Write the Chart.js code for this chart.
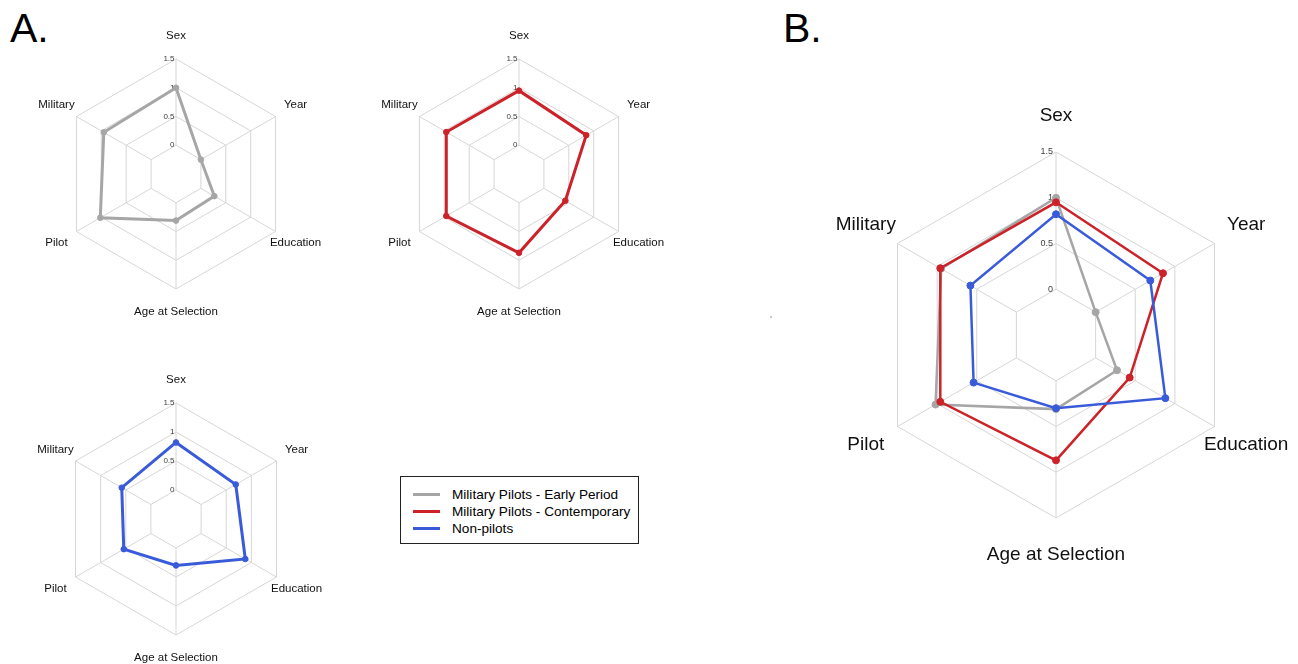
<!DOCTYPE html>
<html>
<head>
<meta charset="utf-8">
<script src="https://cdn.jsdelivr.net/npm/chart.js@4/dist/chart.umd.min.js"></script>
<style>
  html, body { margin:0; padding:0; width:1298px; height:664px; overflow:hidden; background:#fff; }
  body { position:relative; font-family:"Liberation Sans", Arial, sans-serif; }
  .panel { position:absolute; font-size:41px; line-height:41px; color:#000; }
  .box { position:absolute; }
  #legend { position:absolute; left:400px; top:476px; width:237px; height:66px; border:1px solid #222; box-sizing:content-box; }
  .row { position:absolute; left:0; height:17px; font-size:13.6px; line-height:17px; color:#000; white-space:nowrap; }
  .swatch { position:absolute; left:12px; top:7px; width:27px; height:3px; }
  .txt { position:absolute; left:51px; top:0; }
  #dot { position:absolute; left:770px; top:316px; width:2px; height:2px; background:#c8c8c8; }
</style>
</head>
<body>
<div class="panel" style="left:10px; top:8px;">A.</div>
<div class="panel" style="left:783px; top:8px;">B.</div>
<div id="dot"></div>
<div id="legend"></div>

<script>
// ---------- data ----------
const CATEGORIES = ['Sex', 'Year', 'Education', 'Age at Selection', 'Pilot', 'Military'];
const TICK_VALUES = [0, 0.5, 1, 1.5];
const TICK_LABELS = ['0', '0.5', '1', '1.5'];
const SERIES_NAMES = ['Military Pilots - Early Period', 'Military Pilots - Contemporary', 'Non-pilots'];
const EARLY_PERIOD = [1.00, 0.00, 0.27, 0.31, 1.02, 0.95];
const CONTEMPORARY = [0.95, 0.85, 0.43, 0.87, 0.96, 0.96];
const NON_PILOTS   = [0.82, 0.69, 0.88, 0.30, 0.54, 0.58];

// ---------- styling ----------
const COLORS = ['#a6a6a6', '#cc2229', '#3a5bd9'];
const SERIES_VALUES = [EARLY_PERIOD, CONTEMPORARY, NON_PILOTS];
const GRID = '#d6d6d6';
const FONT = '"Liberation Sans", Arial, sans-serif';

const labelPlugin = {
  id: 'radarLabels',
  beforeDatasetsDraw(chart) {
    const s = chart.scales.r;
    const ctx = chart.ctx;
    const o = chart.options.plugins.radarLabels;
    const r0 = s.getDistanceFromCenterForValue(0);
    const r1 = s.getDistanceFromCenterForValue(s.max);
    ctx.save();
    ctx.strokeStyle = GRID;
    ctx.lineWidth = 1;
    for (let i = 0; i < chart.data.labels.length; i++) {
      const a = s.getPointPosition(i, r0), b = s.getPointPosition(i, r1);
      ctx.beginPath(); ctx.moveTo(a.x, a.y); ctx.lineTo(b.x, b.y); ctx.stroke();
    }
    // tick labels
    ctx.fillStyle = '#404040';
    ctx.font = o.tickSize + 'px ' + FONT;
    ctx.textAlign = 'right';
    ctx.textBaseline = 'middle';
    TICK_VALUES.forEach((v, k) => {
      const p = s.getPointPosition(0, s.getDistanceFromCenterForValue(v));
      ctx.fillText(TICK_LABELS[k], p.x - o.tickOffset, p.y);
    });
    ctx.restore();
  },
  afterDraw(chart) {
    const s = chart.scales.r;
    const ctx = chart.ctx;
    const o = chart.options.plugins.radarLabels;
    ctx.save();
    ctx.fillStyle = '#111';
    ctx.font = o.labelSize + 'px ' + FONT;
    ctx.textAlign = 'center';
    ctx.textBaseline = 'middle';
    chart.data.labels.forEach((l, i) => {
      const p = s.getPointPosition(i, s.drawingArea * 1.2);
      ctx.fillText(l, p.x, p.y);
    });
    ctx.restore();
  }
};

function makeRadar(cfg) {
  const W = 2 * cfg.r + cfg.padL + cfg.padR;
  const H = 2 * cfg.r + cfg.padT + cfg.padB;
  const div = document.createElement('div');
  div.className = 'box';
  div.style.left = (cfg.cx - cfg.r - cfg.padL) + 'px';
  div.style.top = (cfg.cy - cfg.r - cfg.padT) + 'px';
  div.style.width = W + 'px';
  div.style.height = H + 'px';
  const cv = document.createElement('canvas');
  cv.width = W; cv.height = H;
  cv.style.width = W + 'px'; cv.style.height = H + 'px';
  div.appendChild(cv);
  document.body.appendChild(div);

  const datasets = cfg.series.map((si, k) => ({
    label: SERIES_NAMES[si],
    data: SERIES_VALUES[si],
    borderColor: COLORS[si],
    backgroundColor: COLORS[si],
    pointBackgroundColor: COLORS[si],
    pointBorderColor: COLORS[si],
    borderWidth: cfg.lineWidth,
    pointRadius: cfg.pointRadius,
    pointBorderWidth: 1,
    fill: false,
    tension: 0,
    order: cfg.series.length - 1 - k
  }));

  new Chart(cv, {
    type: 'radar',
    data: { labels: CATEGORIES, datasets },
    options: {
      responsive: false,
      animation: false,
      devicePixelRatio: 1,
      layout: { padding: { left: cfg.padL, right: cfg.padR, top: cfg.padT, bottom: cfg.padB } },
      plugins: {
        legend: { display: false },
        tooltip: { enabled: false },
        radarLabels: { labelSize: cfg.labelSize, tickSize: cfg.tickSize, tickOffset: cfg.tickOffset }
      },
      scales: {
        r: {
          min: -0.5, max: 1.5,
          ticks: { display: false, stepSize: 0.5 },
          pointLabels: { display: false },
          grid: { color: GRID, lineWidth: 1 },
          angleLines: { display: false }
        }
      }
    },
    plugins: [labelPlugin]
  });
}

// Panel A small charts
makeRadar({ cx: 176, cy: 174, r: 115, padL: 40, padR: 40, padT: 40, padB: 40, series: [0],
  lineWidth: 3, pointRadius: 2.8, labelSize: 11.5, tickSize: 8, tickOffset: 1.5 });
makeRadar({ cx: 519, cy: 174, r: 115, padL: 40, padR: 40, padT: 40, padB: 40, series: [1],
  lineWidth: 3, pointRadius: 2.8, labelSize: 11.5, tickSize: 8, tickOffset: 1.5 });
makeRadar({ cx: 176, cy: 519, r: 116, padL: 40, padR: 40, padT: 40, padB: 30, series: [2],
  lineWidth: 3, pointRadius: 2.8, labelSize: 11.5, tickSize: 8, tickOffset: 1.5 });
// Panel B combined chart
makeRadar({ cx: 1056, cy: 335, r: 183, padL: 75, padR: 55, padT: 50, padB: 50, series: [0, 1, 2],
  lineWidth: 2.5, pointRadius: 3.5, labelSize: 19, tickSize: 9, tickOffset: 3 });

// Legend
const legend = document.getElementById('legend');
SERIES_NAMES.forEach((name, i) => {
  const row = document.createElement('div');
  row.className = 'row';
  row.style.top = (9 + i * 17) + 'px';
  row.innerHTML = '<span class="swatch" style="background:' + COLORS[i] + '"></span><span class="txt"></span>';
  row.querySelector('.txt').textContent = name;
  legend.appendChild(row);
});
</script>
</body>
</html>
